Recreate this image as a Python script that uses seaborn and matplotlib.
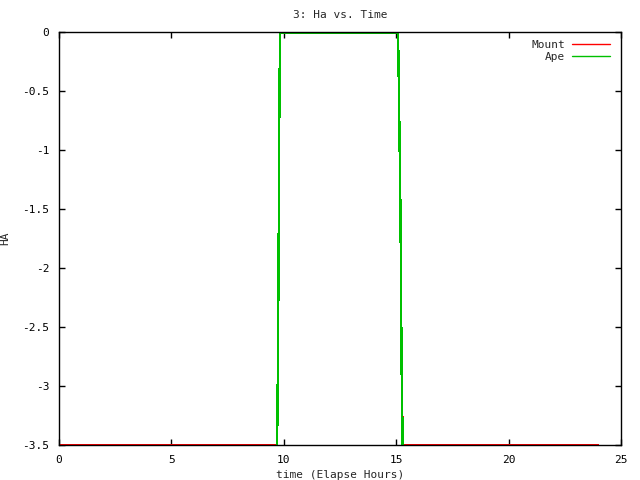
import pandas as pd
import seaborn as sns
import matplotlib.pyplot as plt
from matplotlib.ticker import MultipleLocator, FuncFormatter

# hour-angle samples
mount_time = [0.0, 9.70, 9.72, 9.76, 9.80, 9.83, 15.08, 15.10, 15.13, 15.19, 15.24, 15.29, 23.96]
mount_ha = [-3.5, -3.5, -3.2, -2.17, -0.73, 0.0, 0.0, -0.22, -0.64, -1.52, -2.84, -3.5, -3.5]

ape_time = [0.0, 9.70, 9.72, 9.76, 9.80, 9.83, 15.08, 15.10, 15.13, 15.19, 15.24, 15.29, 23.96]
ape_ha = [-3.51, -3.51, -3.2, -2.17, -0.73, -0.008, -0.008, -0.22, -0.64, -1.52, -2.84, -3.51, -3.51]

df = pd.concat([
    pd.DataFrame({'time': mount_time, 'HA': mount_ha, 'series': 'Mount'}),
    pd.DataFrame({'time': ape_time, 'HA': ape_ha, 'series': 'Ape'}),
], ignore_index=True)

sns.set_style('ticks')
plt.rcParams['font.family'] = ['DejaVu Sans Mono']

fig = plt.figure(figsize=(6.4, 4.8), dpi=100)
ax = fig.add_axes([59 / 640, 35 / 480, 562 / 640, 413 / 480])

sns.lineplot(data=df, x='time', y='HA', hue='series', palette={'Mount': '#ff0000', 'Ape': '#00c000'},
             estimator=None, sort=False, linewidth=1.0, antialiased=False, ax=ax)

ax.set_xlim(0, 25)
ax.set_ylim(-3.5, 0)
ax.xaxis.set_major_locator(MultipleLocator(5))
ax.yaxis.set_major_locator(MultipleLocator(0.5))
ax.yaxis.set_major_formatter(FuncFormatter(lambda v, p: f'{v:g}'))
ax.tick_params(direction='in', length=4, width=1, top=True, right=True, labelsize=8, colors='black', pad=7)
for s in ax.spines.values():
    s.set_visible(True)
    s.set_color('black')
    s.set_linewidth(1)

ax.set_title('3: Ha vs. Time', fontsize=8, pad=10)
ax.set_xlabel('time (Elapse Hours)', fontsize=8, labelpad=4)
ax.set_ylabel('HA', fontsize=8)
ax.yaxis.set_label_coords(-49 / 562, 0.5)

ax.legend(loc='upper right', frameon=False, fontsize=8, markerfirst=False, handlelength=3.5,
          handletextpad=0.6, labelspacing=0.2, borderaxespad=0.3, bbox_to_anchor=(0.995, 1.0))

fig.savefig('out.png', dpi=100, facecolor='w')
